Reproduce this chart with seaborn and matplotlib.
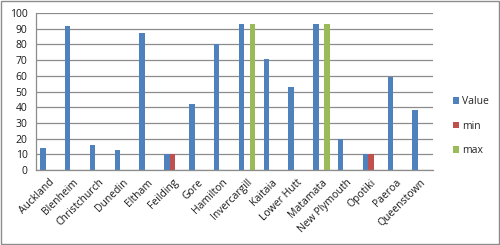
import matplotlib
matplotlib.use("Agg")
import matplotlib.pyplot as plt
import seaborn as sns
import pandas as pd
import numpy as np
from matplotlib.patches import Rectangle

categories = ["Auckland", "Blenheim", "Christchurch", "Dunedin", "Eltham", "Feilding",
              "Gore", "Hamilton", "Invercargill", "Kaitaia", "Lower Hutt", "Matamata",
              "New Plymouth", "Opotiki", "Paeroa", "Queenstown"]
value = [14, 92, 16, 13, 87, 10, 42, 80, 93, 71, 53, 93, 20, 10, 59, 38]
min_vals = [np.nan, np.nan, np.nan, np.nan, np.nan, 10, np.nan, np.nan, np.nan,
            np.nan, np.nan, np.nan, np.nan, 10, np.nan, np.nan]
max_vals = [np.nan, np.nan, np.nan, np.nan, np.nan, np.nan, np.nan, np.nan, 93,
            np.nan, np.nan, 93, np.nan, np.nan, np.nan, np.nan]
series_names = ["Value", "min", "max"]
colors = ["#4F81BD", "#C0504D", "#9BBB59"]
y_ticks = list(range(0, 101, 10))

rows = []
for name, vals in zip(series_names, [value, min_vals, max_vals]):
    for c, v in zip(categories, vals):
        rows.append({"city": c, "series": name, "val": v})
df = pd.DataFrame(rows)

sns.set_style("white")
plt.rcParams["font.family"] = ["Open Sans", "DejaVu Sans"]

fig = plt.figure(figsize=(5, 2.45), dpi=100)
ax = fig.add_axes([0.072, 0.306, 0.794, 0.641])
sns.barplot(data=df, x="city", y="val", hue="series", order=categories,
            hue_order=series_names, palette=colors, width=0.66, ax=ax,
            saturation=1, errorbar=None, edgecolor="none")

ax.set_ylim(0, 100)
ax.set_xlim(-0.5, len(categories) - 0.5)
ax.set_yticks(y_ticks)
ax.set_yticklabels([str(t) for t in y_ticks], fontsize=7.5, color="#1a1a1a")
ax.yaxis.grid(True, color="#8C8C8C", linewidth=0.9)
ax.set_axisbelow(True)
ax.set_xlabel("")
ax.set_ylabel("")
ax.set_xticks(range(len(categories)))
ax.set_xticklabels(categories, rotation=45, ha="right", rotation_mode="anchor",
                   fontsize=7.5, color="#1a1a1a")
ax.set_xticks(np.arange(-0.5, len(categories), 1), minor=True)
ax.tick_params(axis="x", which="major", length=0, pad=5)
ax.tick_params(axis="x", which="minor", length=4, color="#8C8C8C", width=0.9)
ax.tick_params(axis="y", length=4, color="#8C8C8C", width=0.9, pad=2)
for s in ["top", "right"]:
    ax.spines[s].set_visible(False)
for s in ["left", "bottom"]:
    ax.spines[s].set_color("#8C8C8C")
    ax.spines[s].set_linewidth(0.9)

ax.legend(loc="center left", bbox_to_anchor=(1.04, 0.28), frameon=False,
          fontsize=7.5, handlelength=0.6, handleheight=0.6, labelspacing=1.3,
          handletextpad=0.3, borderaxespad=0)

fig.patches.append(Rectangle((0.002, 0.004), 0.995, 0.991, transform=fig.transFigure,
                             fill=False, edgecolor="#8C8C8C", linewidth=1))
fig.savefig("out.png", dpi=100)
